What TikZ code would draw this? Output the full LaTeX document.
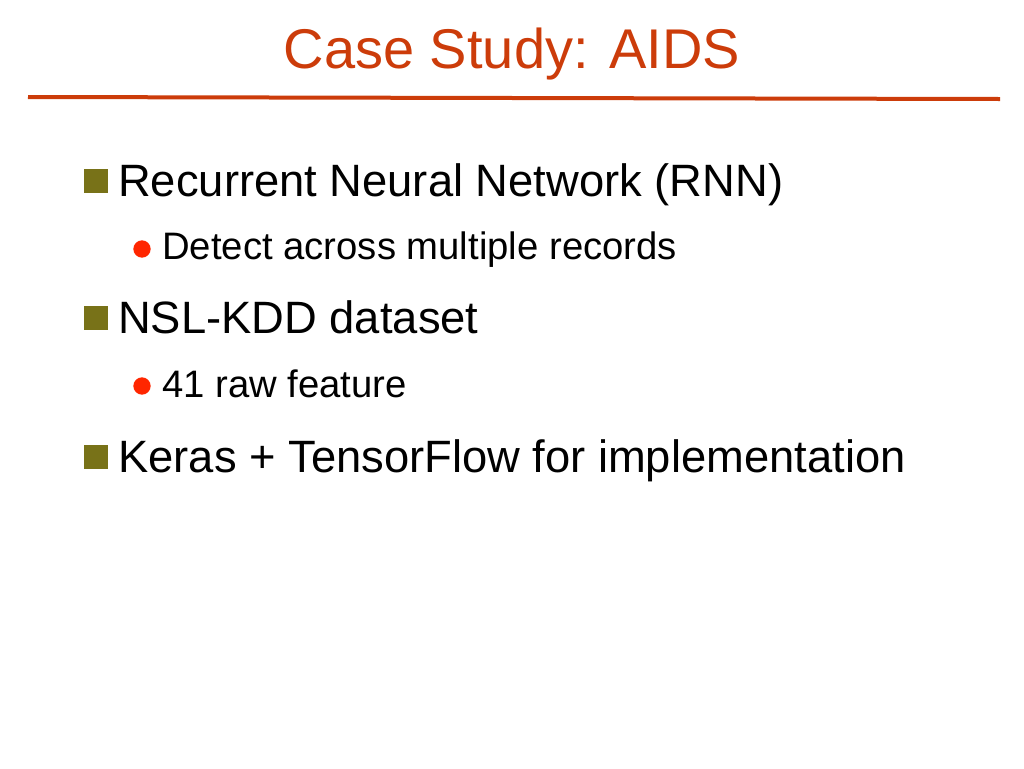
\documentclass[tikz,border=0pt]{standalone}
\usepackage{fontspec}
\setmainfont{Liberation Sans}
\begin{document}
\begin{tikzpicture}[x=0.75pt,y=-0.75pt,
  t1/.style={anchor=base west,inner sep=0pt,font=\fontsize{34}{40}\selectfont},
  t2/.style={anchor=base west,inner sep=0pt,font=\fontsize{28.7}{34}\selectfont},
  sq/.style={fill=olive!80!black,draw=none,minimum size=18pt,inner sep=0pt},
  dot/.style={circle,fill=orange!30!red,draw=none,minimum size=13pt,inner sep=0pt}]
\definecolor{titlered}{RGB}{204,60,10}
\useasboundingbox (0,0) rectangle (1024,768);
\node[anchor=base,inner sep=0pt,text=titlered,font=\fontsize{42}{48}\selectfont] (title) at (512,68) {Case Study: AIDS};
\draw[titlered,line width=3pt] (28,97) -- (1000,99);
\node[sq] (b1) at (96,181) {};
\node[t1] (l1) at (118,196) {Recurrent Neural Network (RNN)};
\node[dot] (d1) at (142,249) {};
\node[t2] (l2) at (162,259) {Detect across multiple records};
\node[sq] (b2) at (96,318) {};
\node[t1] (l3) at (118,333) {NSL-KDD dataset};
\node[dot] (d2) at (142,386) {};
\node[t2] (l4) at (162,397) {41 raw feature};
\node[sq] (b3) at (96,457) {};
\node[t1] (l5) at (118,472) {Keras + TensorFlow for implementation};
\end{tikzpicture}
\end{document}
